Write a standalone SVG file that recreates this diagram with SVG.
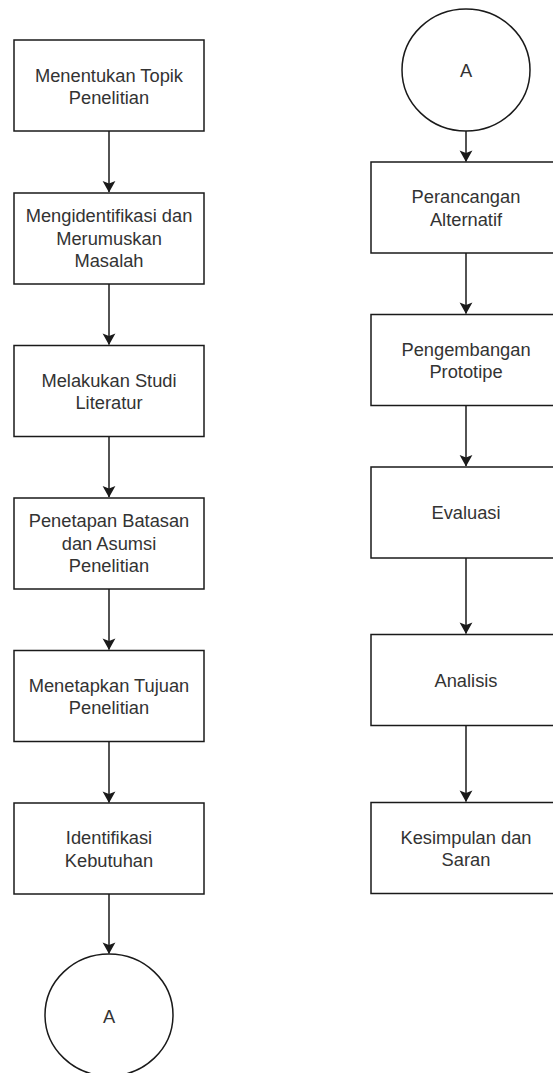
<svg xmlns="http://www.w3.org/2000/svg" width="553" height="1073" viewBox="0 0 553 1073">
<defs>
<style>
.box{fill:#fff;stroke:#1a1a1a;stroke-width:1.5}
.t{font-family:"Liberation Sans",Arial,sans-serif;font-size:18.3px;fill:#333;text-anchor:middle}
.c{fill:none;stroke:#1a1a1a;stroke-width:1.5}
</style>
<marker id="ar" markerWidth="14" markerHeight="14" viewBox="0 0 14 14" refX="12" refY="7" orient="auto" markerUnits="userSpaceOnUse">
<path d="M1,0.6 L12.5,7 L1,13.4 L3.5,7 Z" fill="#1a1a1a"/>
</marker>
</defs>
<rect width="553" height="1073" fill="#fff"/>
<g id="connectors">
<line class="c" x1="109" y1="131" x2="109" y2="192" marker-end="url(#ar)"/>
<line class="c" x1="109" y1="284" x2="109" y2="344.5" marker-end="url(#ar)"/>
<line class="c" x1="109" y1="437" x2="109" y2="497" marker-end="url(#ar)"/>
<line class="c" x1="109" y1="589" x2="109" y2="649.5" marker-end="url(#ar)"/>
<line class="c" x1="109" y1="742" x2="109" y2="802.5" marker-end="url(#ar)"/>
<line class="c" x1="109" y1="894" x2="109" y2="953.5" marker-end="url(#ar)"/>
<line class="c" x1="466" y1="131" x2="466" y2="161.5" marker-end="url(#ar)"/>
<line class="c" x1="466" y1="253" x2="466" y2="313.5" marker-end="url(#ar)"/>
<line class="c" x1="466" y1="406" x2="466" y2="466" marker-end="url(#ar)"/>
<line class="c" x1="466" y1="558" x2="466" y2="633.5" marker-end="url(#ar)"/>
<line class="c" x1="466" y1="726" x2="466" y2="801.5" marker-end="url(#ar)"/>
</g>
<g id="n1"><rect class="box" x="14" y="40" width="190" height="91"/><text class="t"><tspan x="109" y="81.5">Menentukan Topik</tspan><tspan x="109" y="104">Penelitian</tspan></text></g>
<g id="n2"><rect class="box" x="14" y="193" width="190" height="91"/><text class="t"><tspan x="109" y="222">Mengidentifikasi dan</tspan><tspan x="109" y="244.5">Merumuskan</tspan><tspan x="109" y="267">Masalah</tspan></text></g>
<g id="n3"><rect class="box" x="14" y="345.5" width="190" height="91"/><text class="t"><tspan x="109" y="386.5">Melakukan Studi</tspan><tspan x="109" y="409">Literatur</tspan></text></g>
<g id="n4"><rect class="box" x="14" y="498" width="190" height="91"/><text class="t"><tspan x="109" y="527">Penetapan Batasan</tspan><tspan x="109" y="549.5">dan Asumsi</tspan><tspan x="109" y="572">Penelitian</tspan></text></g>
<g id="n5"><rect class="box" x="14" y="650.5" width="190" height="91"/><text class="t"><tspan x="109" y="691.5">Menetapkan Tujuan</tspan><tspan x="109" y="714">Penelitian</tspan></text></g>
<g id="n6"><rect class="box" x="14" y="803" width="190" height="91"/><text class="t"><tspan x="109" y="844">Identifikasi</tspan><tspan x="109" y="866.5">Kebutuhan</tspan></text></g>
<g id="n7"><ellipse class="box" cx="109" cy="1015" rx="64" ry="61"/><text class="t" x="109" y="1022.5">A</text></g>
<g id="r0"><ellipse class="box" cx="466" cy="70" rx="64" ry="61"/><text class="t" x="466" y="76.5">A</text></g>
<g id="r1"><rect class="box" x="371" y="162" width="190" height="91"/><text class="t"><tspan x="466" y="203">Perancangan</tspan><tspan x="466" y="225.5">Alternatif</tspan></text></g>
<g id="r2"><rect class="box" x="371" y="314.5" width="190" height="91"/><text class="t"><tspan x="466" y="355.5">Pengembangan</tspan><tspan x="466" y="378">Prototipe</tspan></text></g>
<g id="r3"><rect class="box" x="371" y="467" width="190" height="91"/><text class="t" x="466" y="519">Evaluasi</text></g>
<g id="r4"><rect class="box" x="371" y="634.5" width="190" height="91"/><text class="t" x="466" y="686.5">Analisis</text></g>
<g id="r5"><rect class="box" x="371" y="802.5" width="190" height="91"/><text class="t"><tspan x="466" y="843.5">Kesimpulan dan</tspan><tspan x="466" y="866">Saran</tspan></text></g>
</svg>
